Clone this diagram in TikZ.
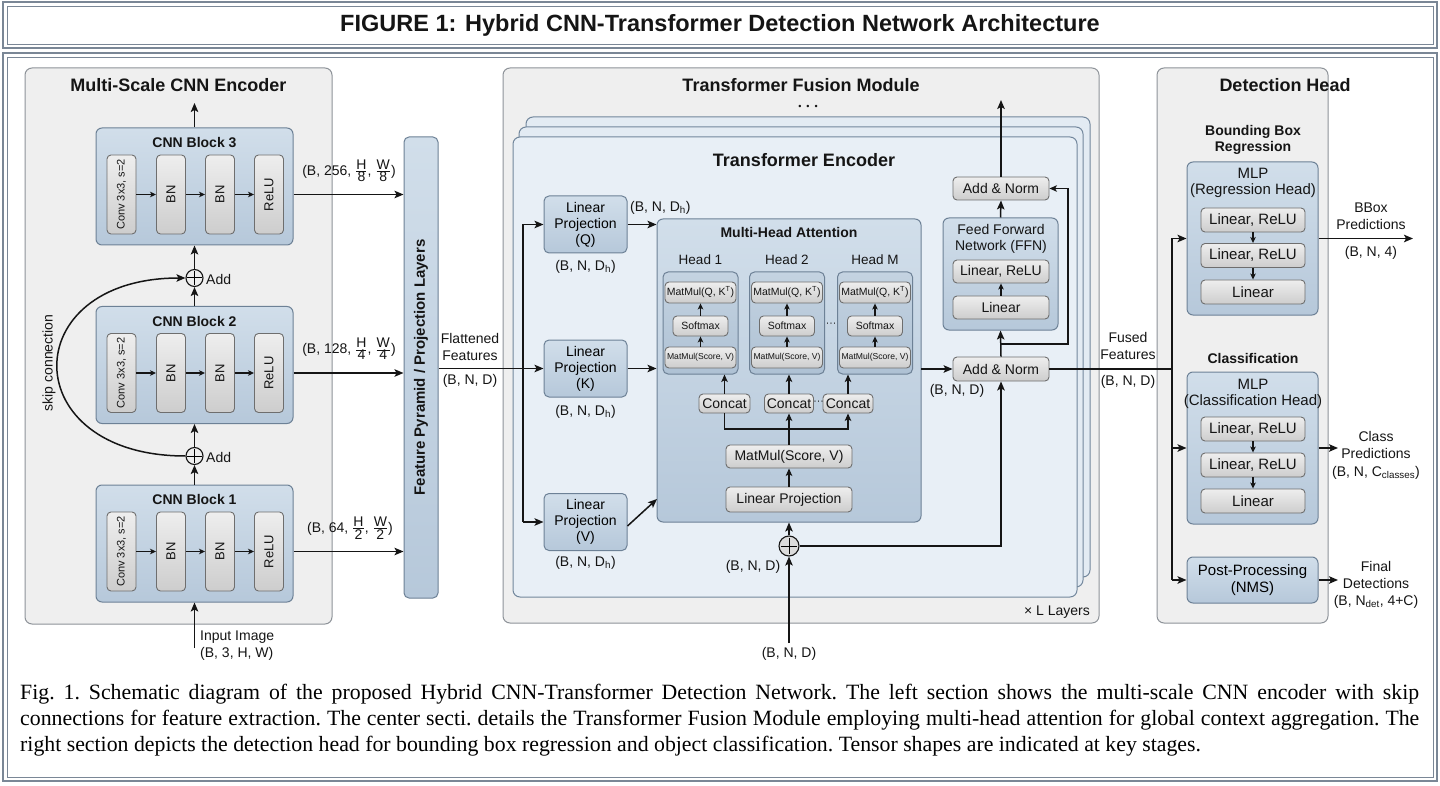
\documentclass[tikz,border=0pt]{standalone}
\usepackage{fontspec}
\setmainfont{Liberation Sans}
\newfontfamily\capfont{Liberation Serif}
\usetikzlibrary{arrows.meta}
\definecolor{framec}{HTML}{7A8796}
\definecolor{panelfill}{HTML}{EFEFEF}
\definecolor{panelline}{HTML}{8E9399}
\definecolor{blktop}{HTML}{D1DEEA}
\definecolor{blkbot}{HTML}{B6C8DA}
\definecolor{blkline}{HTML}{6D8196}
\definecolor{gtop}{HTML}{EEEEEE}
\definecolor{gbot}{HTML}{CDCDCD}
\definecolor{gline}{HTML}{6E6E6E}
\definecolor{layfill}{HTML}{E3EBF3}
\definecolor{layfront}{HTML}{E8EFF6}
\definecolor{layline}{HTML}{72879C}
\definecolor{headtop}{HTML}{C4D3E1}
\definecolor{headbot}{HTML}{AEC1D4}
\definecolor{ink}{HTML}{151515}
\newcommand\ffTitle{\fontsize{23.5}{28}\selectfont\bfseries}
\newcommand\ffPanel{\fontsize{18}{21}\selectfont\bfseries}
\newcommand\ffBold{\fontsize{14}{16}\selectfont\bfseries}
\newcommand\ffNorm{\fontsize{14}{17}\selectfont}
\newcommand\ffConv{\fontsize{11}{13}\selectfont}
\newcommand\ffBN{\fontsize{13}{15}\selectfont}
\newcommand\ffFP{\fontsize{15}{18}\selectfont\bfseries}
\newcommand\ffHead{\fontsize{13.5}{16}\selectfont}
\newcommand\ffSm{\fontsize{10.5}{12}\selectfont}
\newcommand\ffXs{\fontsize{8.6}{10}\selectfont}
\newcommand\ffDet{\fontsize{15}{16.5}\selectfont}
\newcommand\ffCap{\capfont\fontsize{21.8}{26}\selectfont\frenchspacing}
\newcommand\myfr[2]{$\frac{\hbox{#1}}{\hbox{#2}}$}
\tikzset{
 arr/.style={draw=ink, line width=1.5pt, -{Stealth[length=9pt,width=7.5pt,inset=2pt]}},
 marr/.style={draw=ink, line width=1.3pt, -{Stealth[length=7.5pt,width=6.5pt,inset=1.8pt]}},
 sarr/.style={draw=ink, line width=1.1pt, -{Stealth[length=6pt,width=5.5pt,inset=1.5pt]}},
 ln/.style={draw=ink, line width=1.5pt},
 mln/.style={draw=ink, line width=1.3pt},
 lbl/.style={text=ink, inner sep=0pt, align=center},
 panel/.style={draw=panelline, fill=panelfill, rounded corners=7pt, line width=1pt, inner sep=0pt},
 layer/.style={draw=layline, fill=layfill, rounded corners=7pt, line width=1pt, inner sep=0pt},
 blk/.style={draw=blkline, top color=blktop, bottom color=blkbot, rounded corners=6pt, line width=1pt, inner sep=0pt},
 headbox/.style={draw=blkline, top color=headtop, bottom color=headbot, rounded corners=5pt, line width=1pt, inner sep=0pt},
 gbox/.style={draw=gline, top color=gtop, bottom color=gbot, rounded corners=4pt, line width=0.9pt, inner sep=0pt, text=ink, align=center},
 addc/.style={circle, draw=ink, fill=gtop, line width=1.1pt, minimum size=17pt, inner sep=0pt},
}
\newcommand\cnnblk[3]{%
 \node[blk, minimum width=197pt, minimum height=117pt] (#1) at (194.5,#3) {};
 \node[lbl, font=\ffBold] (#1t) at (194.5,#3-44) {CNN Block #2};
 \node[gbox, minimum width=29pt, minimum height=79pt] (#1a) at (121.5,#3+8) {\rotatebox{90}{\ffConv Conv 3x3, s=2}};
 \node[gbox, minimum width=29pt, minimum height=79pt] (#1b) at (171,#3+8) {\rotatebox{90}{\ffBN BN}};
 \node[gbox, minimum width=29pt, minimum height=79pt] (#1c) at (220,#3+8) {\rotatebox{90}{\ffBN BN}};
 \node[gbox, minimum width=29pt, minimum height=79pt] (#1d) at (269,#3+8) {\rotatebox{90}{\ffBN ReLU}};
 \draw[sarr] (#1a) -- (#1b);
 \draw[sarr] (#1b) -- (#1c);
 \draw[sarr] (#1c) -- (#1d);
}
\newcommand\headblk[3]{%
 \node[lbl, font=\ffHead] (h#1l) at (#2,260) {#3};
 \node[headbox, minimum width=75pt, minimum height=102pt] (h#1) at (#2,323) {};
 \node[gbox, minimum width=71pt, minimum height=21pt, font=\ffSm] (qk#1) at (#2,292.5) {MatMul(Q, K\textsuperscript{T})};
 \node[gbox, minimum width=55pt, minimum height=20pt, font=\ffSm] (sm#1) at (#2,326) {Softmax};
 \node[gbox, minimum width=71pt, minimum height=21pt, font=\ffXs] (sv#1) at (#2,357.5) {MatMul(Score, V)};
 \draw[sarr] (sv#1.north) -- (sm#1.south);
 \draw[sarr] (sm#1.north) -- (qk#1.south);
}
\begin{document}
\begin{tikzpicture}[x=1pt,y=-1pt]
\useasboundingbox (0,0) rectangle (1440,786);
\fill[white] (0,0) rectangle (1440,786);
% frames
\draw[framec, line width=1.6pt] (3,2) rectangle (1437,48);
\draw[framec, line width=0.8pt] (7,6) rectangle (1433,44);
\node[lbl, font=\ffTitle] (title) at (720,25) {FIGURE 1: Hybrid CNN-Transformer Detection Network Architecture};
\draw[framec, line width=1.6pt] (3,53) rectangle (1437,781);
\draw[framec, line width=0.8pt] (7,57) rectangle (1433,777);

% ===== Encoder =====
\node[panel, minimum width=307pt, minimum height=556pt] (encp) at (178.5,346) {};
\node[lbl, font=\ffPanel] (enct) at (178.5,85) {Multi-Scale CNN Encoder};
\cnnblk{b3}{3}{186.5}
\cnnblk{b2}{2}{365}
\cnnblk{b1}{1}{543.5}
\node[addc] (add3) at (194.5,278) {};
\draw[line width=1pt, shorten <=2pt, shorten >=2pt] (add3.north) -- (add3.south);
\draw[line width=1pt, shorten <=2pt, shorten >=2pt] (add3.west) -- (add3.east);
\node[addc] (add2) at (194.5,456) {};
\draw[line width=1pt, shorten <=2pt, shorten >=2pt] (add2.north) -- (add2.south);
\draw[line width=1pt, shorten <=2pt, shorten >=2pt] (add2.west) -- (add2.east);
\node[lbl, font=\ffNorm, anchor=west] (add3l) at (206,279) {Add};
\node[lbl, font=\ffNorm, anchor=west] (add2l) at (206,457) {Add};
\coordinate (encout) at (194.5,103);
\coordinate (inimg) at (194.5,648);
\draw[arr] (b3.north) -- (encout);
\draw[arr] (add3.north) -- (b3.south);
\draw[arr] (b2.north) -- (add3.south);
\draw[arr] (add2.north) -- (b2.south);
\draw[arr] (b1.north) -- (add2.south);
\draw[arr] (inimg) -- (b1.south);
\draw[arr] (add2.west) .. controls (15,456) and (15,278) .. (add3.west);
\node[lbl, font=\ffNorm, rotate=90] (skipl) at (49,363) {skip connection};
\node[lbl, font=\ffNorm, align=left, anchor=west] (inl) at (200,646) {Input Image\\(B, 3, H, W)};

% ===== Feature pyramid =====
\node[blk, rounded corners=5pt, minimum width=34pt, minimum height=461pt] (fp) at (421,367.5) {};
\node[lbl, font=\ffFP, rotate=90] (fpt) at (421,367.5) {Feature Pyramid / Projection Layers};
\draw[arr] (b3d -| b3.east) -- (b3d -| fp.west);
\draw[arr] (b2d -| b2.east) -- (b2d -| fp.west);
\draw[arr] (b1d -| b1.east) -- (b1d -| fp.west);
\node[lbl, font=\ffNorm] (d3) at (349,171) {(B, 256, \myfr{H}{8}, \myfr{W}{8})};
\node[lbl, font=\ffNorm] (d2) at (349,349) {(B, 128, \myfr{H}{4}, \myfr{W}{4})};
\node[lbl, font=\ffNorm] (d1) at (350,528) {(B, 64, \myfr{H}{2}, \myfr{W}{2})};

% ===== Transformer =====
\node[panel, minimum width=596pt, minimum height=555pt] (tfp) at (801,345.5) {};
\node[lbl, font=\ffPanel] (tft) at (801,85) {Transformer Fusion Module};
\node[lbl, font=\fontsize{9}{12}\selectfont] (tfdots) at (808,107) {•\;\;•\;\;•};
\node[layer, minimum width=564pt, minimum height=460pt] (lay3) at (808,347) {};
\node[layer, minimum width=564pt, minimum height=460pt] (lay2) at (801,357) {};
\node[layer, fill=layfront, minimum width=564pt, minimum height=460pt] (lay1) at (795,367) {};
\node[lbl, font=\ffPanel] (tet) at (804,160) {Transformer Encoder};
\node[lbl, font=\ffNorm, anchor=east] (ll) at (1090,612) {× L Layers};

% Q K V
\node[blk, rounded corners=5pt, minimum width=83pt, minimum height=57pt, font=\ffNorm, align=center] (q) at (585.5,224.5) {Linear\\[-1pt]Projection\\[-1pt](Q)};
\node[blk, rounded corners=5pt, minimum width=83pt, minimum height=57pt, font=\ffNorm, align=center] (k) at (585.5,368.5) {Linear\\[-1pt]Projection\\[-1pt](K)};
\node[blk, rounded corners=5pt, minimum width=83pt, minimum height=57pt, font=\ffNorm, align=center] (v) at (585.5,522) {Linear\\[-1pt]Projection\\[-1pt](V)};
\node[lbl, font=\ffNorm] (ql) at (585.5,267) {(B, N, D\textsubscript{h})};
\node[lbl, font=\ffNorm] (kl) at (585.5,412) {(B, N, D\textsubscript{h})};
\node[lbl, font=\ffNorm] (vl) at (585.5,563) {(B, N, D\textsubscript{h})};
\coordinate (fj) at (523,368.5);
\draw[arr] (k.west -| fp.east) -- (k.west);
\draw[ln] (q.west -| fj) -- (v.west -| fj);
\draw[arr] (q.west -| fj) -- (q.west);
\draw[arr] (v.west -| fj) -- (v.west);
\node[lbl, font=\ffNorm] (flat) at (470,347) {Flattened\\Features};
\node[lbl, font=\ffNorm] (flatd) at (470,381) {(B, N, D)};

% MHA
\node[blk, minimum width=264pt, minimum height=303pt] (mha) at (789,370.5) {};
\node[lbl, font=\ffBold] (mhat) at (789,232) {Multi-Head Attention};
\headblk{1}{700.5}{Head 1}
\headblk{2}{787}{Head 2}
\headblk{3}{875}{Head M}
\node[lbl, font=\ffSm] (hdots) at (831,325) {···};
\node[gbox, minimum width=51pt, minimum height=19pt, font=\ffNorm] (c1) at (724.5,403.5) {Concat};
\node[gbox, minimum width=49pt, minimum height=19pt, font=\ffNorm] (c2) at (789,403.5) {Concat};
\node[gbox, minimum width=50pt, minimum height=19pt, font=\ffNorm] (c3) at (848,403.5) {Concat};
\node[lbl, font=\ffSm] (cdots) at (818.5,403) {···};
\node[gbox, minimum width=126pt, minimum height=23pt, font=\ffNorm] (mm) at (789,456.5) {MatMul(Score, V)};
\node[gbox, minimum width=126pt, minimum height=25pt, font=\ffNorm] (lp) at (789,499.5) {Linear Projection};
\draw[marr] (c1.north) -- (c1.north |- h1.south);
\draw[marr] (c2.north) -- (c2.north |- h2.south);
\draw[marr] (c3.north) -- (c3.north |- h3.south);
\coordinate (cj) at (789,429);
\draw[marr] (lp.north) -- (mm.south);
\draw[mln] (mm.north) -- (cj);
\draw[marr] (cj) -- (c2.south);
\draw[mln] (cj) -| (c1.south);
\draw[marr] (cj) -| (c3.south);
\draw[arr] (q.east) -- (q.east -| mha.west);
\draw[arr] (k.east) -- (k.east -| mha.west);
\coordinate (vin) at (657,499);
\draw[arr] ([yshift=-4pt]v.east) -- (vin);
\node[lbl, font=\ffNorm, anchor=west] (qd) at (630,208) {(B, N, D\textsubscript{h})};

% residual / plus
\node[addc, minimum size=20pt, fill=gbot!70!white] (plus) at (789,546) {};
\draw[line width=1pt, shorten <=2.5pt, shorten >=2.5pt] (plus.north) -- (plus.south);
\draw[line width=1pt, shorten <=2.5pt, shorten >=2.5pt] (plus.west) -- (plus.east);
\coordinate (bin) at (789,643);
\draw[arr] (bin) -- (plus.south);
\draw[arr] (plus.north) -- (mha.south);
\node[lbl, font=\ffNorm] (bnd1) at (753,567) {(B, N, D)};
\node[lbl, font=\ffNorm] (bnd2) at (789,654) {(B, N, D)};

% FFN side
\node[gbox, minimum width=96pt, minimum height=24pt, font=\ffNorm] (an2) at (1001,369) {Add \& Norm};
\node[gbox, minimum width=96pt, minimum height=23pt, font=\ffNorm] (an1) at (1001,188.5) {Add \& Norm};
\node[blk, minimum width=115pt, minimum height=112pt] (ffn) at (1000.5,274) {};
\node[lbl, font=\fontsize{14}{16}\selectfont] (ffnt) at (1001,239) {Feed Forward\\Network (FFN)};
\node[gbox, minimum width=96pt, minimum height=23pt, font=\ffNorm] (linr) at (1001,271.5) {Linear, ReLU};
\node[gbox, minimum width=96pt, minimum height=23pt, font=\ffNorm] (lin) at (1001,307.5) {Linear};
\draw[sarr] (lin.north) -- (linr.south);
\draw[arr] (an2.north) -- (ffn.south);
\draw[arr] (ffn.north) -- (an1.south);
\coordinate (topout) at (1001,100);
\draw[arr] (an1.north) -- (topout);
\coordinate (r1) at (1001,344);
\coordinate (r2) at (1068,344);
\draw[marr] (r1) -- (r2) |- (an1.east);
\coordinate (mhaout) at (921,369);
\draw[arr] (mhaout) -- (an2.west);
\draw[arr] (plus.east) -| (an2.south);
\node[lbl, font=\ffNorm] (bnd3) at (957,391) {(B, N, D)};

% ===== Detection head =====
\node[panel, minimum width=171pt, minimum height=555pt] (dhp) at (1242.5,345.5) {};
\node[lbl, font=\ffPanel] (dht) at (1285,85) {Detection Head};
\node[lbl, font=\ffBold] (bbt) at (1253,140) {Bounding Box\\Regression};
\node[blk, minimum width=131pt, minimum height=153pt] (mlp1) at (1252.5,238.5) {};
\node[lbl, font=\fontsize{15}{16}\selectfont] (mlp1t) at (1253,183) {MLP\\(Regression Head)};
\node[gbox, minimum width=104pt, minimum height=24pt, font=\ffDet] (r1a) at (1253,220) {Linear, ReLU};
\node[gbox, minimum width=104pt, minimum height=24pt, font=\ffDet] (r1b) at (1253,255.5) {Linear, ReLU};
\node[gbox, minimum width=104pt, minimum height=24pt, font=\ffDet] (r1c) at (1253,292) {Linear};
\draw[sarr] (r1a.south) -- (r1b.north);
\draw[sarr] (r1b.south) -- (r1c.north);
\node[lbl, font=\ffBold] (clt) at (1253,358) {Classification};
\node[blk, minimum width=131pt, minimum height=152pt] (mlp2) at (1252.5,448) {};
\node[lbl, font=\fontsize{15}{16}\selectfont] (mlp2t) at (1253,393.5) {MLP\\(Classification Head)};
\node[gbox, minimum width=104pt, minimum height=24pt, font=\ffDet] (r2a) at (1253,429) {Linear, ReLU};
\node[gbox, minimum width=104pt, minimum height=24pt, font=\ffDet] (r2b) at (1253,465) {Linear, ReLU};
\node[gbox, minimum width=104pt, minimum height=24pt, font=\ffDet] (r2c) at (1253,501) {Linear};
\draw[sarr] (r2a.south) -- (r2b.north);
\draw[sarr] (r2b.south) -- (r2c.north);
\node[blk, minimum width=131pt, minimum height=46pt, font=\ffDet, align=center] (post) at (1252.5,580) {Post-Processing\\(NMS)};
\coordinate (fjd) at (1172,369);
\coordinate (dj1) at (1172,238.5);
\coordinate (dj2) at (1172,448);
\coordinate (dj3) at (1172,580);
\draw[ln] (an2.east) -- (fjd);
\draw[ln] (dj1) -- (dj3);
\draw[arr] (dj1) -- (mlp1.west);
\draw[arr] (dj2) -- (mlp2.west);
\draw[arr] (dj3) -- (post.west);
\node[lbl, font=\ffNorm] (fusl) at (1128,346) {Fused\\Features};
\node[lbl, font=\ffNorm] (fusd) at (1128,382) {(B, N, D)};
\coordinate (bbout) at (1413,238.5);
\coordinate (clout) at (1338,448);
\coordinate (fdout) at (1338,580);
\draw[arr] (mlp1.east) -- (bbout);
\draw[arr] (mlp2.east) -- (clout);
\draw[arr] (post.east) -- (fdout);
\node[lbl, font=\ffNorm] (bbl) at (1371,216) {BBox\\Predictions};
\node[lbl, font=\ffNorm] (bbd) at (1371,253) {(B, N, 4)};
\node[lbl, font=\fontsize{14}{17.5}\selectfont] (cll) at (1376,455) {Class\\Predictions\\(B, N, C\textsubscript{classes})};
\node[lbl, font=\fontsize{14}{17}\selectfont] (fdl) at (1376,585) {Final\\Detections\\(B, N\textsubscript{det}, 4+C)};

% ===== Caption =====
\node[anchor=north west, inner sep=0pt, text width=1399pt, align=justify, font=\ffCap, text=black] (cap) at (20,684) {Fig. 1. Schematic diagram of the proposed Hybrid CNN-Transformer Detection Network. The left section shows the multi-scale CNN encoder with skip\linebreak connections for feature extraction. The center secti. details the Transformer Fusion Module employing multi-head attention for global context aggregation. The\linebreak right section depicts the detection head for bounding box regression and object classification. Tensor shapes are indicated at key stages.};
\end{tikzpicture}
\end{document}
